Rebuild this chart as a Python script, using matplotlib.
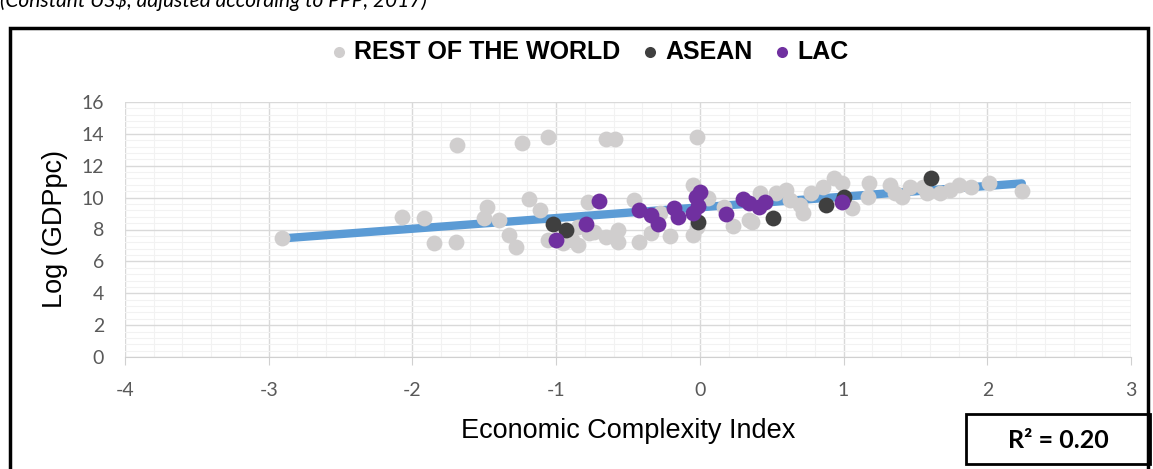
import numpy as np
import matplotlib.pyplot as plt
from matplotlib.patches import Rectangle

plt.rcParams['axes.unicode_minus'] = False

# Datos (ECI, log GDPpc)
row_eci = [-2.91, -2.07, -1.92, -1.85, -1.70, -1.69, -1.48, -1.50, -1.40, -1.33,
           -1.28, -1.24, -1.19, -1.11, -1.06, -1.06, -0.95, -0.85, -0.74, -0.78,
           -0.65, -0.59, -0.65, -0.57, -0.57, -0.46, -0.42, -0.34, -0.28, -0.21,
           -0.05, -0.05, -0.02, 0.06, 0.17, 0.23, 0.34, 0.36, 0.42, 0.53,
           0.60, 0.63, 0.70, 0.72, 0.77, 0.86, 0.93, 0.99, 1.06, 1.17,
           1.18, 1.32, 1.36, 1.41, 1.46, 1.55, 1.58, 1.67, 1.74, 1.80,
           1.89, 2.01, 2.24, -0.02, -0.85, -0.77, -0.89]
row_gdp = [7.48, 8.80, 8.70, 7.13, 7.23, 13.30, 9.39, 8.70, 8.59, 7.65,
           6.88, 13.44, 9.91, 9.22, 13.78, 7.34, 7.17, 7.03, 7.86, 9.74,
           13.66, 13.66, 7.55, 7.23, 7.97, 9.85, 7.23, 7.76, 9.01, 7.59,
           7.65, 10.79, 13.82, 9.96, 9.39, 8.22, 8.59, 8.49, 10.27, 10.27,
           10.48, 9.85, 9.54, 9.01, 10.27, 10.68, 11.21, 10.90, 9.33, 10.06,
           10.90, 10.79, 10.27, 10.06, 10.68, 10.68, 10.27, 10.27, 10.48, 10.79,
           10.68, 10.90, 10.43, 8.17, 8.17, 7.76, 7.34]

asean_eci = [-1.02, -0.93, -0.01, 0.51, 0.88, 1.00, 1.61]
asean_gdp = [8.34, 7.97, 8.49, 8.70, 9.52, 10.06, 11.21]

lac_eci = [-1.00, -0.79, -0.70, -0.42, -0.34, -0.29, -0.18, -0.15, -0.05, -0.03,
           0.00, -0.01, 0.18, 0.30, 0.34, 0.41, 0.45, 0.99]
lac_gdp = [7.34, 8.34, 9.79, 9.22, 8.91, 8.32, 9.33, 8.80, 9.01, 10.06,
           10.37, 9.50, 8.97, 9.91, 9.68, 9.39, 9.74, 9.74]

# linea de tendencia lineal
trend_slope = 0.671
trend_intercept = 9.39
r2_text = "R\u00b2 = 0.20"

W, H = 1153, 469
fig = plt.figure(figsize=(W / 100, H / 100), dpi=100)
ax = fig.add_axes([125 / W, 1 - 357 / H, (1131 - 125) / W, (357 - 102) / H])

todos_x = np.array(row_eci + asean_eci + lac_eci)
xs = np.array([todos_x.min(), todos_x.max()])
ax.plot(xs, trend_slope * xs + trend_intercept, color='#5B9BD5', lw=6, zorder=2,
        solid_capstyle='round')

s = 130
ax.scatter(row_eci, row_gdp, s=s, color='#D0CECE', lw=0, zorder=3, label='REST OF THE WORLD')
ax.scatter(asean_eci, asean_gdp, s=s, color='#3F3F3F', lw=0, zorder=4, label='ASEAN')
ax.scatter(lac_eci, lac_gdp, s=s, color='#7030A0', lw=0, zorder=5, label='LAC')

ax.set_xlim(-4, 3)
ax.set_ylim(0, 16)
ax.set_xticks(range(-4, 4))
ax.set_yticks(range(0, 17, 2))
ax.set_xticks(np.arange(-4, 3.001, 0.2), minor=True)
ax.set_yticks(np.arange(0, 16.001, 0.4), minor=True)
ax.grid(which='major', color='#D9D9D9', lw=1)
ax.grid(which='minor', color='#F2F2F2', lw=0.8)
ax.set_axisbelow(True)
for lado in ['top', 'right', 'left']:
    ax.spines[lado].set_visible(False)
ax.spines['bottom'].set_color('#D0D0D0')
ax.tick_params(axis='x', which='major', direction='out', length=6, color='#D0D0D0',
               labelsize=14, labelcolor='#595959', pad=12)
ax.tick_params(axis='y', which='major', length=0, labelsize=14, labelcolor='#595959', pad=15)
ax.tick_params(which='minor', length=0)
for t in ax.get_xticklabels() + ax.get_yticklabels():
    t.set_family('Lato')

ax.set_xlabel('Economic Complexity Index', family='Liberation Sans', fontsize=19.5,
              color='black', labelpad=14)
ax.set_ylabel('Log (GDPpc)', family='Liberation Sans', fontsize=19.5, color='black', labelpad=10)

leg = fig.legend(loc='center', bbox_to_anchor=(590 / W, 1 - 52 / H), ncol=3, frameon=False,
                 markerscale=0.7, handlelength=0.6, handletextpad=0.3, columnspacing=0.9,
                 prop={'family': 'Liberation Sans', 'weight': 'bold', 'size': 18})

# marco exterior
fig.patches.append(Rectangle((10 / W, -0.05), (1148 - 10) / W, 1.05 - 28 / H,
                             transform=fig.transFigure, fill=False, lw=2.5,
                             edgecolor='black'))
# caja R2
fig.patches.append(Rectangle((966 / W, 1 - 464 / H), (1150 - 966) / W, (464 - 414) / H,
                             transform=fig.transFigure, fill=False, lw=2,
                             edgecolor='black', zorder=5))
fig.text(1058 / W, 1 - 440 / H, r2_text, ha='center', va='center', family='Lato',
         weight='bold', fontsize=18)

# texto superior recortado
fig.text(0.0, 1 - 7 / H, '(Constant US$, adjusted according to PPP, 2017)',
         ha='left', va='baseline', family='Lato', style='italic', fontsize=15)

fig.savefig('out.png', dpi=100)
